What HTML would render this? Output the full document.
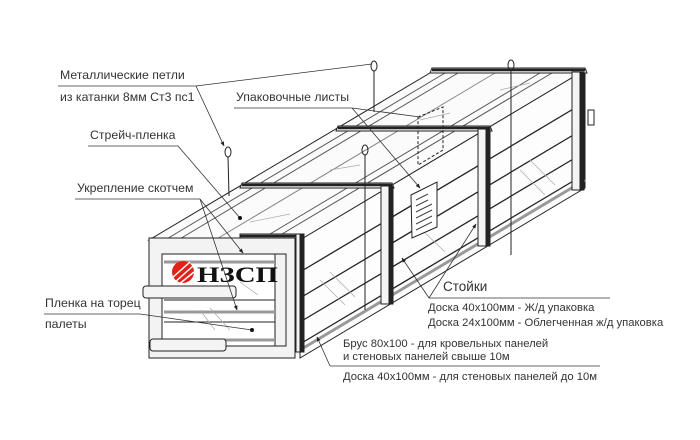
<!DOCTYPE html>
<html><head><meta charset="utf-8"><style>
html,body{margin:0;padding:0;background:#fff}
svg{display:block}
text{font-family:"Liberation Sans",sans-serif;font-size:12.3px;fill:#333}
text.r{font-size:11.25px}
</style></head><body>
<svg width="700" height="440" viewBox="0 0 700 440" xmlns="http://www.w3.org/2000/svg">
<rect x="0" y="0" width="700" height="440" fill="#fff"/>
<defs><marker id="ar" viewBox="0 0 10 10" refX="9" refY="5" markerWidth="6" markerHeight="6" orient="auto"><path d="M0,1 L10,5 L0,9 z" fill="#222"/></marker></defs>
<g stroke="#222" stroke-width="1" fill="none">
<polygon points="149,240 300,240 585,70 435,70" fill="#fbfbfb"/>
<polygon points="300,240 585,70 585,188 300,358" fill="#fdfdfd"/>
<line x1="165" y1="240" x2="450" y2="70" stroke="#555"/>
<line x1="178" y1="240" x2="463" y2="70" stroke="#555"/>
<line x1="215" y1="240" x2="500" y2="70" stroke="#888"/>
<line x1="260" y1="240" x2="545" y2="70" stroke="#555"/>
<line x1="272" y1="240" x2="557" y2="70" stroke="#555"/>
<line x1="300" y1="272" x2="585" y2="102" stroke-width="1.3"/>
<line x1="300" y1="298" x2="585" y2="128" stroke-width="1.3"/>
<line x1="300" y1="322" x2="585" y2="152" stroke-width="1.3"/>
<line x1="300" y1="344" x2="585" y2="174" stroke-width="1.3"/>
<line x1="300" y1="350" x2="585" y2="180" stroke="#999" stroke-width="3"/>
<g stroke="#aaa" stroke-width="0.7">
<line x1="250" y1="222" x2="290" y2="214"/><line x1="330" y1="170" x2="360" y2="165"/><line x1="420" y1="120" x2="450" y2="113"/><line x1="500" y1="90" x2="530" y2="83"/>
<line x1="320" y1="280" x2="345" y2="305"/><line x1="330" y1="272" x2="355" y2="297"/><line x1="420" y1="228" x2="445" y2="252"/><line x1="520" y1="170" x2="545" y2="195"/><line x1="530" y1="160" x2="555" y2="185"/>
</g>
<g fill="#f4f4f4">
<polygon points="242,183 392,183 394,188 240,188"/>
<polygon points="338,126 490,126 492,131 336,131"/>
<polygon points="432,68 585,68 587,73 430,73"/>
<polygon points="240,234 302,234 302,240 240,240"/>
</g>
<line x1="240" y1="236" x2="302" y2="236" stroke-width="2.5"/>
<line x1="242" y1="185" x2="392" y2="185" stroke-width="2.5"/>
<line x1="338" y1="128" x2="490" y2="128" stroke-width="2.5"/>
<line x1="432" y1="70" x2="585" y2="70" stroke-width="2.5"/>
<rect x="381" y="186" width="8" height="118" fill="#f4f4f4"/>
<rect x="389" y="186" width="4" height="118" fill="#222"/>
<rect x="478" y="129" width="8" height="117" fill="#f4f4f4"/>
<rect x="486" y="129" width="4" height="117" fill="#222"/>
<rect x="572" y="72" width="8" height="118" fill="#f4f4f4"/>
<rect x="580" y="72" width="4" height="118" fill="#222"/>
<rect x="588" y="110" width="6" height="15" fill="#fff"/>
<rect x="149" y="238" width="146" height="120" fill="#f3f3f3"/>
<rect x="162" y="254" width="124" height="92" fill="#fff"/>
<rect x="275" y="254" width="11" height="92" fill="#f3f3f3"/>
<line x1="164" y1="262" x2="275" y2="262" stroke="#999" stroke-width="3"/>
<line x1="164" y1="300" x2="275" y2="300" stroke="#222"/>
<line x1="164" y1="312" x2="275" y2="312" stroke="#999" stroke-width="3"/>
<line x1="164" y1="322" x2="275" y2="322" stroke="#222"/>
<line x1="164" y1="340" x2="275" y2="340" stroke="#999" stroke-width="3"/>
<rect x="296" y="234" width="5" height="118" fill="#f4f4f4"/>
<rect x="300" y="234" width="4" height="118" fill="#222"/>
<rect x="143" y="286" width="93" height="12" rx="3" fill="#f4f4f4"/>
<rect x="150" y="339" width="76" height="12" rx="3" fill="#f4f4f4"/>
<g stroke="#aaa" stroke-width="0.7"><line x1="200" y1="310" x2="215" y2="330"/><line x1="210" y1="308" x2="230" y2="330"/><line x1="240" y1="282" x2="258" y2="295"/></g>
<polygon points="411,195 437,182 437,227 412,238" fill="#fff"/>
<g stroke="#444" stroke-width="1"><line x1="416" y1="200" x2="428" y2="194"/><line x1="416" y1="206" x2="428" y2="200"/><line x1="416" y1="212" x2="432" y2="204"/><line x1="416" y1="218" x2="432" y2="210"/><line x1="416" y1="224" x2="432" y2="216"/><line x1="416" y1="230" x2="432" y2="222"/></g>
<polygon points="418,117 443,107 443,150 418,165" stroke-dasharray="3,2"/>
<ellipse cx="228" cy="152" rx="3" ry="5"/><line x1="228" y1="157" x2="229" y2="196"/>
<ellipse cx="374" cy="66" rx="3" ry="5"/><line x1="374" y1="71" x2="374" y2="112"/>
<ellipse cx="365" cy="150" rx="3" ry="5"/><line x1="365" y1="155" x2="365" y2="310"/>
<ellipse cx="511" cy="65" rx="3" ry="5"/><line x1="511" y1="70" x2="511" y2="255"/>
</g>
<circle cx="183" cy="272" r="11" fill="#e32119"/>
<g stroke="#fff" stroke-width="1.5"><line x1="172" y1="278" x2="190" y2="262"/><line x1="174" y1="283" x2="193" y2="266"/><line x1="178" y1="285" x2="194" y2="272"/></g>
<text x="197" y="282" textLength="81" lengthAdjust="spacingAndGlyphs" style="font-size:22px;font-weight:bold;fill:#111;font-family:'Liberation Serif',serif">НЗСП</text>
<g stroke="#333" stroke-width="0.8" fill="none">
<polyline points="58,86 196,86 372,64"/>
<line x1="196" y1="86" x2="224" y2="146" marker-end="url(#ar)"/>
<polyline points="234,108 352,108 420,117"/>
<line x1="352" y1="108" x2="420" y2="188" marker-end="url(#ar)"/>
<polyline points="88,146 178,146 240,218"/>
<polyline points="75,199 200,199"/>
<line x1="200" y1="199" x2="243" y2="253" marker-end="url(#ar)"/>
<line x1="200" y1="199" x2="237" y2="310" marker-end="url(#ar)"/>
<polyline points="44,314 140,314 252,330"/>
<polyline points="610,298 429,298"/>
<line x1="429" y1="298" x2="476" y2="224" marker-end="url(#ar)"/>
<line x1="429" y1="298" x2="402" y2="258" marker-end="url(#ar)"/>
<polyline points="600,366 330,366"/>
<line x1="330" y1="366" x2="317" y2="337" marker-end="url(#ar)"/>
</g>
<g fill="#111"><circle cx="240" cy="218" r="2"/><circle cx="252" cy="330" r="2"/></g>
<text x="60" y="79">Металлические петли</text>
<text x="60" y="101">из катанки 8мм Ст3 пс1</text>
<text x="236" y="101">Упаковочные листы</text>
<text x="90" y="139">Стрейч-пленка</text>
<text x="77" y="192">Укрепление скотчем</text>
<text x="45" y="307">Пленка на торец</text>
<text x="45" y="328">палеты</text>
<text x="443" y="291" style="font-size:13.5px">Стойки</text>
<text class="r" x="428" y="311">Доска 40х100мм - Ж/д упаковка</text>
<text class="r" x="428" y="326">Доска 24х100мм - Облегченная  ж/д упаковка</text>
<text class="r" x="343" y="347">Брус 80х100 - для кровельных панелей</text>
<text class="r" x="343" y="360">и стеновых панелей свыше 10м</text>
<text class="r" x="343" y="380">Доска 40х100мм - для стеновых панелей до 10м</text>
</svg>
</body></html>
